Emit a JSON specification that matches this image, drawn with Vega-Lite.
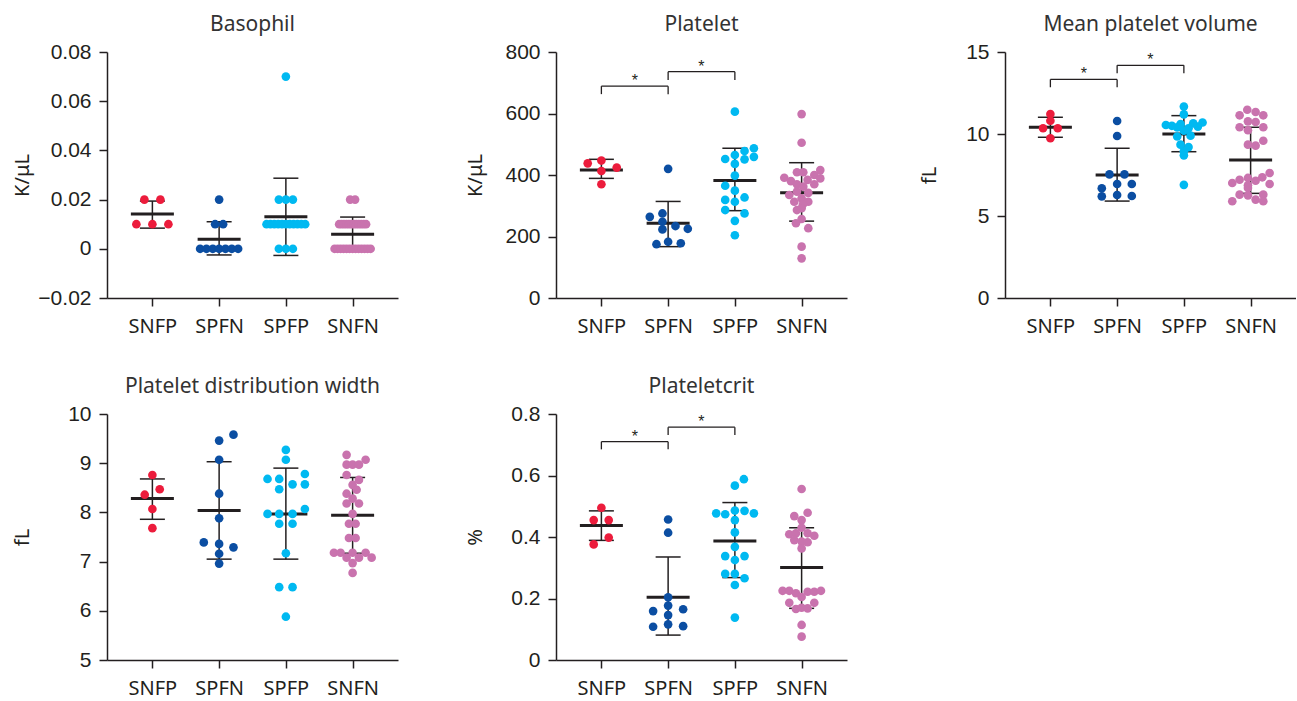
{
"$schema": "https://vega.github.io/schema/vega-lite/v6.json",
"padding": {"left": 12, "top": 14, "right": 0, "bottom": 0},
"background": "white",
"config": {
 "view": {"stroke": null},
 "axis": {"domainColor": "#231f20", "domainWidth": 1.5, "tickColor": "#231f20", "tickWidth": 1.5, "tickSize": 8, "grid": false, "labelColor": "#231f20", "titleColor": "#231f20"},
 "axisX": {"labelFont": "Noto Sans", "labelFontSize": 20, "labelAngle": 0, "labelPadding": 10},
 "axisY": {"labelFont": "Liberation Sans", "labelFontSize": 21, "labelPadding": 8, "titleFont": "Noto Sans", "titleFontSize": 20, "titleFontWeight": "normal", "titleAngle": 270, "titleBaseline": "alphabetic", "titleY": 123},
 "title": {"font": "Noto Sans", "fontSize": 21, "fontWeight": "normal", "color": "#333333", "anchor": "middle", "frame": "group", "offset": 6},
 "circle": {"size": 75, "opacity": 1},
 "tick": {"color": "#231f20", "opacity": 1},
 "rule": {"color": "#231f20"}
},
"datasets": {
 "baso": [
  {"g":"SNFP","v":0.02,"off":-0.12},{"g":"SNFP","v":0.02,"off":0.12},{"g":"SNFP","v":0.01,"off":-0.24},{"g":"SNFP","v":0.01,"off":0},{"g":"SNFP","v":0.01,"off":0.24},
  {"g":"SPFN","v":0.02,"off":0},{"g":"SPFN","v":0.01,"off":-0.06},{"g":"SPFN","v":0.01,"off":0.06},
  {"g":"SPFN","v":0,"off":-0.285},{"g":"SPFN","v":0,"off":-0.19},{"g":"SPFN","v":0,"off":-0.095},{"g":"SPFN","v":0,"off":0},{"g":"SPFN","v":0,"off":0.095},{"g":"SPFN","v":0,"off":0.19},{"g":"SPFN","v":0,"off":0.285},
  {"g":"SPFP","v":0.07,"off":0},{"g":"SPFP","v":0.02,"off":-0.105},{"g":"SPFP","v":0.02,"off":0},{"g":"SPFP","v":0.02,"off":0.105},
  {"g":"SPFP","v":0.01,"off":-0.29},{"g":"SPFP","v":0.01,"off":-0.232},{"g":"SPFP","v":0.01,"off":-0.174},{"g":"SPFP","v":0.01,"off":-0.116},{"g":"SPFP","v":0.01,"off":-0.058},{"g":"SPFP","v":0.01,"off":0},{"g":"SPFP","v":0.01,"off":0.058},{"g":"SPFP","v":0.01,"off":0.116},{"g":"SPFP","v":0.01,"off":0.174},{"g":"SPFP","v":0.01,"off":0.232},{"g":"SPFP","v":0.01,"off":0.29},
  {"g":"SPFP","v":0,"off":-0.105},{"g":"SPFP","v":0,"off":0},{"g":"SPFP","v":0,"off":0.105},
  {"g":"SNFN","v":0.02,"off":-0.037},{"g":"SNFN","v":0.02,"off":0.037},
  {"g":"SNFN","v":0.01,"off":-0.202},{"g":"SNFN","v":0.01,"off":-0.166},{"g":"SNFN","v":0.01,"off":-0.129},{"g":"SNFN","v":0.01,"off":-0.092},{"g":"SNFN","v":0.01,"off":-0.055},{"g":"SNFN","v":0.01,"off":-0.019},{"g":"SNFN","v":0.01,"off":0.019},{"g":"SNFN","v":0.01,"off":0.055},{"g":"SNFN","v":0.01,"off":0.092},{"g":"SNFN","v":0.01,"off":0.129},{"g":"SNFN","v":0.01,"off":0.166},{"g":"SNFN","v":0.01,"off":0.202},
  {"g":"SNFN","v":0,"off":-0.27},{"g":"SNFN","v":0,"off":-0.225},{"g":"SNFN","v":0,"off":-0.18},{"g":"SNFN","v":0,"off":-0.135},{"g":"SNFN","v":0,"off":-0.09},{"g":"SNFN","v":0,"off":-0.045},{"g":"SNFN","v":0,"off":0},{"g":"SNFN","v":0,"off":0.045},{"g":"SNFN","v":0,"off":0.09},{"g":"SNFN","v":0,"off":0.135},{"g":"SNFN","v":0,"off":0.18},{"g":"SNFN","v":0,"off":0.225},{"g":"SNFN","v":0,"off":0.27}
 ],
 "baso_s": [
  {"g":"SNFP","mean":0.0141,"lo":0.0084,"hi":0.0194},
  {"g":"SPFN","mean":0.0039,"lo":-0.0025,"hi":0.011},
  {"g":"SPFP","mean":0.013,"lo":-0.0027,"hi":0.0287},
  {"g":"SNFN","mean":0.0059,"lo":-0.001,"hi":0.0129}
 ],
 "plt": [
  {"g":"SNFP","v":438,"off":-0.205},{"g":"SNFP","v":447,"off":0},{"g":"SNFP","v":424,"off":0.23},{"g":"SNFP","v":413,"off":0},{"g":"SNFP","v":370,"off":0},
  {"g":"SPFN","v":420,"off":0},{"g":"SPFN","v":275,"off":-0.085},{"g":"SPFN","v":264,"off":-0.275},{"g":"SPFN","v":248,"off":-0.085},{"g":"SPFN","v":234,"off":0.11},{"g":"SPFN","v":223,"off":-0.085},{"g":"SPFN","v":225,"off":0.295},{"g":"SPFN","v":175,"off":-0.175},{"g":"SPFN","v":183,"off":0},{"g":"SPFN","v":178,"off":0.19},
  {"g":"SPFP","v":606,"off":0},{"g":"SPFP","v":487,"off":0.285},{"g":"SPFP","v":478,"off":0.145},{"g":"SPFP","v":465,"off":0},{"g":"SPFP","v":452,"off":-0.145},{"g":"SPFP","v":451,"off":0.145},{"g":"SPFP","v":459,"off":0.285},{"g":"SPFP","v":436,"off":0},{"g":"SPFP","v":398,"off":0},{"g":"SPFP","v":365,"off":-0.145},{"g":"SPFP","v":349,"off":0},{"g":"SPFP","v":327,"off":0.145},{"g":"SPFP","v":319,"off":-0.145},{"g":"SPFP","v":313,"off":0},{"g":"SPFP","v":286,"off":-0.145},{"g":"SPFP","v":275,"off":0.145},{"g":"SPFP","v":251,"off":0},{"g":"SPFP","v":204,"off":0},
  {"g":"SNFN","v":598,"off":0},{"g":"SNFN","v":505,"off":0},{"g":"SNFN","v":416,"off":0.28},{"g":"SNFN","v":409,"off":-0.07},{"g":"SNFN","v":409,"off":0.025},{"g":"SNFN","v":400,"off":0.19},{"g":"SNFN","v":391,"off":-0.26},{"g":"SNFN","v":389,"off":0.28},{"g":"SNFN","v":384,"off":0.09},{"g":"SNFN","v":380,"off":-0.16},{"g":"SNFN","v":370,"off":0.19},{"g":"SNFN","v":370,"off":-0.07},{"g":"SNFN","v":362,"off":0.025},{"g":"SNFN","v":346,"off":-0.07},{"g":"SNFN","v":342,"off":0.1},{"g":"SNFN","v":335,"off":-0.185},{"g":"SNFN","v":324,"off":0},{"g":"SNFN","v":313,"off":-0.11},{"g":"SNFN","v":313,"off":0.1},{"g":"SNFN","v":305,"off":0.02},{"g":"SNFN","v":292,"off":0},{"g":"SNFN","v":286,"off":-0.07},{"g":"SNFN","v":257,"off":0},{"g":"SNFN","v":243,"off":-0.085},{"g":"SNFN","v":227,"off":0.1},{"g":"SNFN","v":167,"off":0},{"g":"SNFN","v":129,"off":0}
 ],
 "plt_s": [
  {"g":"SNFP","mean":416,"lo":389,"hi":451},
  {"g":"SPFN","mean":243,"lo":167,"hi":314},
  {"g":"SPFP","mean":382,"lo":284,"hi":487},
  {"g":"SNFN","mean":342,"lo":250,"hi":440}
 ],
 "plt_b": [
  {"a":"SNFP","b":"SPFN","top":689,"arm":663},
  {"a":"SPFN","b":"SPFP","top":736,"arm":709}
 ],
 "mpv": [
  {"g":"SNFP","v":11.22,"off":0},{"g":"SNFP","v":10.81,"off":0},{"g":"SNFP","v":10.35,"off":-0.11},{"g":"SNFP","v":10.35,"off":0.11},{"g":"SNFP","v":9.74,"off":0},
  {"g":"SPFN","v":10.79,"off":0},{"g":"SPFN","v":9.88,"off":0},{"g":"SPFN","v":7.54,"off":-0.115},{"g":"SPFN","v":7.54,"off":0.11},{"g":"SPFN","v":6.95,"off":0},{"g":"SPFN","v":6.95,"off":0.22},{"g":"SPFN","v":6.69,"off":-0.23},{"g":"SPFN","v":6.28,"off":0},{"g":"SPFN","v":6.2,"off":-0.23},{"g":"SPFN","v":6.22,"off":0.22},
  {"g":"SPFP","v":11.67,"off":0},{"g":"SPFP","v":11.2,"off":0},{"g":"SPFP","v":10.7,"off":0.28},{"g":"SPFP","v":10.65,"off":0.14},{"g":"SPFP","v":10.6,"off":-0.05},{"g":"SPFP","v":10.55,"off":-0.27},{"g":"SPFP","v":10.5,"off":-0.18},{"g":"SPFP","v":10.45,"off":0.21},{"g":"SPFP","v":10.4,"off":-0.1},{"g":"SPFP","v":10.35,"off":0.07},{"g":"SPFP","v":10.2,"off":0},{"g":"SPFP","v":9.9,"off":0.1},{"g":"SPFP","v":9.85,"off":-0.1},{"g":"SPFP","v":9.35,"off":-0.05},{"g":"SPFP","v":9.2,"off":0.07},{"g":"SPFP","v":8.95,"off":0},{"g":"SPFP","v":8.7,"off":0},{"g":"SPFP","v":6.9,"off":0},
  {"g":"SNFN","v":11.48,"off":-0.05},{"g":"SNFN","v":11.34,"off":0.075},{"g":"SNFN","v":11.14,"off":-0.165},{"g":"SNFN","v":11.14,"off":0.19},{"g":"SNFN","v":10.77,"off":-0.04},{"g":"SNFN","v":10.73,"off":0.075},{"g":"SNFN","v":10.41,"off":-0.165},{"g":"SNFN","v":10.41,"off":0.19},{"g":"SNFN","v":10.23,"off":-0.04},
  {"g":"SNFN","v":9.35,"off":-0.04},{"g":"SNFN","v":9.29,"off":0.075},{"g":"SNFN","v":9.59,"off":0.19},
  {"g":"SNFN","v":7.62,"off":0.285},{"g":"SNFN","v":7.36,"off":0.175},{"g":"SNFN","v":7.32,"off":-0.04},{"g":"SNFN","v":7.15,"off":0.075},{"g":"SNFN","v":7.21,"off":-0.165},{"g":"SNFN","v":7.01,"off":-0.275},{"g":"SNFN","v":6.95,"off":0.285},{"g":"SNFN","v":6.87,"off":-0.04},{"g":"SNFN","v":6.71,"off":-0.04},{"g":"SNFN","v":6.3,"off":-0.165},{"g":"SNFN","v":6.26,"off":-0.04},{"g":"SNFN","v":6.3,"off":0.19},{"g":"SNFN","v":5.9,"off":-0.275},{"g":"SNFN","v":6.0,"off":0.075},{"g":"SNFN","v":5.9,"off":0.19}
 ],
 "mpv_s": [
  {"g":"SNFP","mean":10.41,"lo":9.8,"hi":11.02},
  {"g":"SPFN","mean":7.5,"lo":5.91,"hi":9.13},
  {"g":"SPFP","mean":10.0,"lo":8.92,"hi":11.12},
  {"g":"SNFN","mean":8.41,"lo":6.38,"hi":10.41}
 ],
 "mpv_b": [
  {"a":"SNFP","b":"SPFN","top":13.33,"arm":12.85},
  {"a":"SPFN","b":"SPFP","top":14.19,"arm":13.7}
 ],
 "pdw": [
  {"g":"SNFP","v":8.76,"off":0},{"g":"SNFP","v":8.47,"off":0.11},{"g":"SNFP","v":8.36,"off":-0.115},{"g":"SNFP","v":8.07,"off":0},{"g":"SNFP","v":7.68,"off":0},
  {"g":"SPFN","v":9.46,"off":0},{"g":"SPFN","v":9.58,"off":0.215},{"g":"SPFN","v":9.07,"off":0},{"g":"SPFN","v":8.38,"off":0},{"g":"SPFN","v":7.88,"off":0},{"g":"SPFN","v":7.39,"off":-0.23},{"g":"SPFN","v":7.36,"off":0},{"g":"SPFN","v":7.29,"off":0.215},{"g":"SPFN","v":7.16,"off":0},{"g":"SPFN","v":6.96,"off":0},
  {"g":"SPFP","v":9.27,"off":0},{"g":"SPFP","v":9.07,"off":0},{"g":"SPFP","v":8.68,"off":-0.275},{"g":"SPFP","v":8.68,"off":-0.1},{"g":"SPFP","v":8.78,"off":0.285},{"g":"SPFP","v":8.47,"off":-0.1},{"g":"SPFP","v":8.57,"off":0.1},{"g":"SPFP","v":8.57,"off":0.285},{"g":"SPFP","v":7.97,"off":-0.275},{"g":"SPFP","v":7.97,"off":-0.1},{"g":"SPFP","v":7.97,"off":0.1},{"g":"SPFP","v":8.07,"off":0.285},{"g":"SPFP","v":7.77,"off":-0.1},{"g":"SPFP","v":7.77,"off":0.1},{"g":"SPFP","v":7.17,"off":0},{"g":"SPFP","v":6.48,"off":-0.1},{"g":"SPFP","v":6.48,"off":0.1},{"g":"SPFP","v":5.88,"off":0},
  {"g":"SNFN","v":9.17,"off":-0.09},{"g":"SNFN","v":9.07,"off":0.195},{"g":"SNFN","v":8.97,"off":-0.09},{"g":"SNFN","v":8.97,"off":0},{"g":"SNFN","v":8.97,"off":0.095},{"g":"SNFN","v":8.76,"off":-0.09},{"g":"SNFN","v":8.66,"off":0.095},{"g":"SNFN","v":8.56,"off":0},{"g":"SNFN","v":8.38,"off":-0.09},{"g":"SNFN","v":8.28,"off":0},{"g":"SNFN","v":8.18,"off":-0.09},{"g":"SNFN","v":8.18,"off":0.095},{"g":"SNFN","v":7.97,"off":0},{"g":"SNFN","v":7.77,"off":-0.055},{"g":"SNFN","v":7.77,"off":0.045},{"g":"SNFN","v":7.48,"off":-0.055},{"g":"SNFN","v":7.48,"off":0.045},{"g":"SNFN","v":7.18,"off":-0.28},{"g":"SNFN","v":7.18,"off":-0.18},{"g":"SNFN","v":7.18,"off":0},{"g":"SNFN","v":7.18,"off":0.195},{"g":"SNFN","v":7.08,"off":-0.09},{"g":"SNFN","v":7.08,"off":0.095},{"g":"SNFN","v":7.08,"off":0.285},{"g":"SNFN","v":6.97,"off":0},{"g":"SNFN","v":6.77,"off":0},{"g":"SNFN","v":8.46,"off":0.06}
 ],
 "pdw_s": [
  {"g":"SNFP","mean":8.28,"lo":7.86,"hi":8.68},
  {"g":"SPFN","mean":8.04,"lo":7.05,"hi":9.03},
  {"g":"SPFP","mean":7.97,"lo":7.05,"hi":8.9},
  {"g":"SNFN","mean":7.94,"lo":7.17,"hi":8.71}
 ],
 "pct": [
  {"g":"SNFP","v":0.495,"off":0},{"g":"SNFP","v":0.455,"off":-0.115},{"g":"SNFP","v":0.455,"off":0.11},{"g":"SNFP","v":0.398,"off":0.11},{"g":"SNFP","v":0.376,"off":-0.115},
  {"g":"SPFN","v":0.457,"off":0},{"g":"SPFN","v":0.414,"off":0},{"g":"SPFN","v":0.204,"off":0},{"g":"SPFN","v":0.177,"off":0},{"g":"SPFN","v":0.159,"off":-0.225},{"g":"SPFN","v":0.165,"off":0.225},{"g":"SPFN","v":0.146,"off":0},{"g":"SPFN","v":0.108,"off":-0.225},{"g":"SPFN","v":0.116,"off":0},{"g":"SPFN","v":0.11,"off":0.225},
  {"g":"SPFP","v":0.588,"off":0.135},{"g":"SPFP","v":0.567,"off":0},{"g":"SPFP","v":0.477,"off":-0.28},{"g":"SPFP","v":0.474,"off":-0.145},{"g":"SPFP","v":0.486,"off":0},{"g":"SPFP","v":0.485,"off":0.145},{"g":"SPFP","v":0.477,"off":0.285},{"g":"SPFP","v":0.455,"off":0},{"g":"SPFP","v":0.415,"off":0},{"g":"SPFP","v":0.368,"off":0},{"g":"SPFP","v":0.338,"off":-0.145},{"g":"SPFP","v":0.338,"off":0.145},{"g":"SPFP","v":0.325,"off":0},{"g":"SPFP","v":0.28,"off":-0.145},{"g":"SPFP","v":0.28,"off":0},{"g":"SPFP","v":0.266,"off":0.145},{"g":"SPFP","v":0.244,"off":0},{"g":"SPFP","v":0.138,"off":0},
  {"g":"SNFN","v":0.556,"off":0},{"g":"SNFN","v":0.468,"off":-0.11},{"g":"SNFN","v":0.479,"off":0.09},{"g":"SNFN","v":0.455,"off":0},{"g":"SNFN","v":0.43,"off":0},{"g":"SNFN","v":0.409,"off":-0.185},{"g":"SNFN","v":0.412,"off":-0.085},{"g":"SNFN","v":0.412,"off":0.09},{"g":"SNFN","v":0.404,"off":0.19},{"g":"SNFN","v":0.39,"off":-0.11},{"g":"SNFN","v":0.385,"off":0},{"g":"SNFN","v":0.383,"off":0.09},{"g":"SNFN","v":0.363,"off":0},
  {"g":"SNFN","v":0.225,"off":-0.285},{"g":"SNFN","v":0.225,"off":-0.185},{"g":"SNFN","v":0.217,"off":-0.085},{"g":"SNFN","v":0.222,"off":0.09},{"g":"SNFN","v":0.222,"off":0.19},{"g":"SNFN","v":0.225,"off":0.29},{"g":"SNFN","v":0.205,"off":0},{"g":"SNFN","v":0.186,"off":-0.185},{"g":"SNFN","v":0.166,"off":-0.085},{"g":"SNFN","v":0.17,"off":0},{"g":"SNFN","v":0.168,"off":0.09},{"g":"SNFN","v":0.186,"off":0.19},{"g":"SNFN","v":0.114,"off":0},{"g":"SNFN","v":0.076,"off":0}
 ],
 "pct_s": [
  {"g":"SNFP","mean":0.437,"lo":0.389,"hi":0.485},
  {"g":"SPFN","mean":0.204,"lo":0.081,"hi":0.335},
  {"g":"SPFP","mean":0.387,"lo":0.268,"hi":0.512},
  {"g":"SNFN","mean":0.301,"lo":0.168,"hi":0.43}
 ],
 "pct_b": [
  {"a":"SNFP","b":"SPFN","top":0.71,"arm":0.685},
  {"a":"SPFN","b":"SPFP","top":0.757,"arm":0.732}
 ]
},
"columns": 3,
"spacing": {"row": 116, "column": 158},
"bounds": "flush",
"concat": [
   {"width": 291, "height": 246, "title": "Basophil",
    "encoding": {"x": {"field": "g", "type": "nominal", "title": null, "scale": {"type": "point", "domain": ["SNFP","SPFN","SPFP","SNFN"], "padding": 0.68}}},
    "layer": [
     {"data": {"name": "baso_s"}, "mark": {"type": "rule", "strokeWidth": 1.5}, "encoding": {"y": {"field": "lo", "type": "quantitative", "title": "K/μL", "scale": {"domain": [-0.02, 0.08], "nice": false, "zero": false}, "axis": {"values": [-0.02, 0, 0.02, 0.04, 0.06, 0.08], "format": "~f", "titleX": -79}}, "y2": {"field": "hi"}}},
     {"data": {"name": "baso_s"}, "mark": {"type": "tick", "size": 25, "thickness": 1.5}, "encoding": {"y": {"field": "hi", "type": "quantitative", "title": "K/μL"}}},
     {"data": {"name": "baso_s"}, "mark": {"type": "tick", "size": 25, "thickness": 1.5}, "encoding": {"y": {"field": "lo", "type": "quantitative", "title": "K/μL"}}},
     {"data": {"name": "baso_s"}, "mark": {"type": "tick", "size": 43, "thickness": 3}, "encoding": {"y": {"field": "mean", "type": "quantitative", "title": "K/μL"}}},
     {"data": {"name": "baso"}, "mark": {"type": "circle"}, "encoding": {"y": {"field": "v", "type": "quantitative", "title": "K/μL"}, "xOffset": {"field": "off", "type": "quantitative", "scale": {"domain": [-1, 1], "range": [-66.7, 66.7]}}, "color": {"field": "g", "type": "nominal", "legend": null, "scale": {"domain": ["SNFP","SPFN","SPFP","SNFN"], "range": ["#ec1c3c","#0b4ea2","#00b9f1","#c973ae"]}}}}
    ]},
   {"width": 291, "height": 246, "title": "Platelet",
    "encoding": {"x": {"field": "g", "type": "nominal", "title": null, "scale": {"type": "point", "domain": ["SNFP","SPFN","SPFP","SNFN"], "padding": 0.68}}},
    "layer": [
     {"data": {"name": "plt_s"}, "mark": {"type": "rule", "strokeWidth": 1.5}, "encoding": {"y": {"field": "lo", "type": "quantitative", "title": "K/μL", "scale": {"domain": [0, 800], "nice": false, "zero": false}, "axis": {"values": [0, 200, 400, 600, 800], "format": "~f", "titleX": -75}}, "y2": {"field": "hi"}}},
     {"data": {"name": "plt_s"}, "mark": {"type": "tick", "size": 25, "thickness": 1.5}, "encoding": {"y": {"field": "hi", "type": "quantitative", "title": "K/μL"}}},
     {"data": {"name": "plt_s"}, "mark": {"type": "tick", "size": 25, "thickness": 1.5}, "encoding": {"y": {"field": "lo", "type": "quantitative", "title": "K/μL"}}},
     {"data": {"name": "plt_s"}, "mark": {"type": "tick", "size": 43, "thickness": 3}, "encoding": {"y": {"field": "mean", "type": "quantitative", "title": "K/μL"}}},
     {"data": {"name": "plt"}, "mark": {"type": "circle"}, "encoding": {"y": {"field": "v", "type": "quantitative", "title": "K/μL"}, "xOffset": {"field": "off", "type": "quantitative", "scale": {"domain": [-1, 1], "range": [-66.7, 66.7]}}, "color": {"field": "g", "type": "nominal", "legend": null, "scale": {"domain": ["SNFP","SPFN","SPFP","SNFN"], "range": ["#ec1c3c","#0b4ea2","#00b9f1","#c973ae"]}}}},
     {"data": {"name": "plt_b"}, "mark": {"type": "rule", "strokeWidth": 1.3}, "encoding": {"x": {"field": "a", "type": "nominal", "title": null}, "x2": {"field": "b"}, "y": {"field": "top", "type": "quantitative", "title": "K/μL"}}},
     {"data": {"name": "plt_b"}, "mark": {"type": "rule", "strokeWidth": 1.3}, "encoding": {"x": {"field": "a", "type": "nominal", "title": null}, "y": {"field": "arm", "type": "quantitative", "title": "K/μL"}, "y2": {"field": "top"}}},
     {"data": {"name": "plt_b"}, "mark": {"type": "rule", "strokeWidth": 1.3}, "encoding": {"x": {"field": "b", "type": "nominal", "title": null}, "y": {"field": "arm", "type": "quantitative", "title": "K/μL"}, "y2": {"field": "top"}}},
     {"data": {"name": "plt_b"}, "mark": {"type": "text", "text": "*", "font": "Liberation Sans", "fontSize": 16, "baseline": "alphabetic", "color": "#231f20"}, "encoding": {"x": {"field": "a", "type": "nominal", "title": null}, "xOffset": {"datum": 0.5, "type": "quantitative", "scale": {"domain": [-1, 1], "range": [-66.7, 66.7]}}, "y": {"field": "top", "type": "quantitative", "title": "K/μL"}}}
    ]},
  {"width": 291, "height": 246, "title": "Mean platelet volume",
   "encoding": {"x": {"field": "g", "type": "nominal", "title": null, "scale": {"type": "point", "domain": ["SNFP","SPFN","SPFP","SNFN"], "padding": 0.68}}},
   "layer": [
    {"data": {"name": "mpv_s"}, "mark": {"type": "rule", "strokeWidth": 1.5}, "encoding": {"y": {"field": "lo", "type": "quantitative", "title": "fL", "scale": {"domain": [0, 15], "nice": false, "zero": false}, "axis": {"values": [0, 5, 10, 15], "format": "~f", "titleX": -70}}, "y2": {"field": "hi"}}},
    {"data": {"name": "mpv_s"}, "mark": {"type": "tick", "size": 25, "thickness": 1.5}, "encoding": {"y": {"field": "hi", "type": "quantitative", "title": "fL"}}},
    {"data": {"name": "mpv_s"}, "mark": {"type": "tick", "size": 25, "thickness": 1.5}, "encoding": {"y": {"field": "lo", "type": "quantitative", "title": "fL"}}},
    {"data": {"name": "mpv_s"}, "mark": {"type": "tick", "size": 43, "thickness": 3}, "encoding": {"y": {"field": "mean", "type": "quantitative", "title": "fL"}}},
    {"data": {"name": "mpv"}, "mark": {"type": "circle"}, "encoding": {"y": {"field": "v", "type": "quantitative", "title": "fL"}, "xOffset": {"field": "off", "type": "quantitative", "scale": {"domain": [-1, 1], "range": [-66.7, 66.7]}}, "color": {"field": "g", "type": "nominal", "legend": null, "scale": {"domain": ["SNFP","SPFN","SPFP","SNFN"], "range": ["#ec1c3c","#0b4ea2","#00b9f1","#c973ae"]}}}},
    {"data": {"name": "mpv_b"}, "mark": {"type": "rule", "strokeWidth": 1.3}, "encoding": {"x": {"field": "a", "type": "nominal", "title": null}, "x2": {"field": "b"}, "y": {"field": "top", "type": "quantitative", "title": "fL"}}},
    {"data": {"name": "mpv_b"}, "mark": {"type": "rule", "strokeWidth": 1.3}, "encoding": {"x": {"field": "a", "type": "nominal", "title": null}, "y": {"field": "arm", "type": "quantitative", "title": "fL"}, "y2": {"field": "top"}}},
    {"data": {"name": "mpv_b"}, "mark": {"type": "rule", "strokeWidth": 1.3}, "encoding": {"x": {"field": "b", "type": "nominal", "title": null}, "y": {"field": "arm", "type": "quantitative", "title": "fL"}, "y2": {"field": "top"}}},
    {"data": {"name": "mpv_b"}, "mark": {"type": "text", "text": "*", "font": "Liberation Sans", "fontSize": 16, "baseline": "alphabetic", "color": "#231f20"}, "encoding": {"x": {"field": "a", "type": "nominal", "title": null}, "xOffset": {"datum": 0.5, "type": "quantitative", "scale": {"domain": [-1, 1], "range": [-66.7, 66.7]}}, "y": {"field": "top", "type": "quantitative", "title": "fL"}}}
   ]},
  {"width": 291, "height": 246, "title": "Platelet distribution width",
   "encoding": {"x": {"field": "g", "type": "nominal", "title": null, "scale": {"type": "point", "domain": ["SNFP","SPFN","SPFP","SNFN"], "padding": 0.68}}},
   "layer": [
    {"data": {"name": "pdw_s"}, "mark": {"type": "rule", "strokeWidth": 1.5}, "encoding": {"y": {"field": "lo", "type": "quantitative", "title": "fL", "scale": {"domain": [5, 10], "nice": false, "zero": false}, "axis": {"values": [5, 6, 7, 8, 9, 10], "format": "~f", "titleX": -79}}, "y2": {"field": "hi"}}},
    {"data": {"name": "pdw_s"}, "mark": {"type": "tick", "size": 25, "thickness": 1.5}, "encoding": {"y": {"field": "hi", "type": "quantitative", "title": "fL"}}},
    {"data": {"name": "pdw_s"}, "mark": {"type": "tick", "size": 25, "thickness": 1.5}, "encoding": {"y": {"field": "lo", "type": "quantitative", "title": "fL"}}},
    {"data": {"name": "pdw_s"}, "mark": {"type": "tick", "size": 43, "thickness": 3}, "encoding": {"y": {"field": "mean", "type": "quantitative", "title": "fL"}}},
    {"data": {"name": "pdw"}, "mark": {"type": "circle"}, "encoding": {"y": {"field": "v", "type": "quantitative", "title": "fL"}, "xOffset": {"field": "off", "type": "quantitative", "scale": {"domain": [-1, 1], "range": [-66.7, 66.7]}}, "color": {"field": "g", "type": "nominal", "legend": null, "scale": {"domain": ["SNFP","SPFN","SPFP","SNFN"], "range": ["#ec1c3c","#0b4ea2","#00b9f1","#c973ae"]}}}}
   ]},
  {"width": 291, "height": 246, "title": "Plateletcrit",
   "encoding": {"x": {"field": "g", "type": "nominal", "title": null, "scale": {"type": "point", "domain": ["SNFP","SPFN","SPFP","SNFN"], "padding": 0.68}}},
   "layer": [
    {"data": {"name": "pct_s"}, "mark": {"type": "rule", "strokeWidth": 1.5}, "encoding": {"y": {"field": "lo", "type": "quantitative", "title": "%", "scale": {"domain": [0, 0.8], "nice": false, "zero": false}, "axis": {"values": [0, 0.2, 0.4, 0.6, 0.8], "format": "~f", "titleX": -75}}, "y2": {"field": "hi"}}},
    {"data": {"name": "pct_s"}, "mark": {"type": "tick", "size": 25, "thickness": 1.5}, "encoding": {"y": {"field": "hi", "type": "quantitative", "title": "%"}}},
    {"data": {"name": "pct_s"}, "mark": {"type": "tick", "size": 25, "thickness": 1.5}, "encoding": {"y": {"field": "lo", "type": "quantitative", "title": "%"}}},
    {"data": {"name": "pct_s"}, "mark": {"type": "tick", "size": 43, "thickness": 3}, "encoding": {"y": {"field": "mean", "type": "quantitative", "title": "%"}}},
    {"data": {"name": "pct"}, "mark": {"type": "circle"}, "encoding": {"y": {"field": "v", "type": "quantitative", "title": "%"}, "xOffset": {"field": "off", "type": "quantitative", "scale": {"domain": [-1, 1], "range": [-66.7, 66.7]}}, "color": {"field": "g", "type": "nominal", "legend": null, "scale": {"domain": ["SNFP","SPFN","SPFP","SNFN"], "range": ["#ec1c3c","#0b4ea2","#00b9f1","#c973ae"]}}}},
    {"data": {"name": "pct_b"}, "mark": {"type": "rule", "strokeWidth": 1.3}, "encoding": {"x": {"field": "a", "type": "nominal", "title": null}, "x2": {"field": "b"}, "y": {"field": "top", "type": "quantitative", "title": "%"}}},
    {"data": {"name": "pct_b"}, "mark": {"type": "rule", "strokeWidth": 1.3}, "encoding": {"x": {"field": "a", "type": "nominal", "title": null}, "y": {"field": "arm", "type": "quantitative", "title": "%"}, "y2": {"field": "top"}}},
    {"data": {"name": "pct_b"}, "mark": {"type": "rule", "strokeWidth": 1.3}, "encoding": {"x": {"field": "b", "type": "nominal", "title": null}, "y": {"field": "arm", "type": "quantitative", "title": "%"}, "y2": {"field": "top"}}},
    {"data": {"name": "pct_b"}, "mark": {"type": "text", "text": "*", "font": "Liberation Sans", "fontSize": 16, "baseline": "alphabetic", "color": "#231f20"}, "encoding": {"x": {"field": "a", "type": "nominal", "title": null}, "xOffset": {"datum": 0.5, "type": "quantitative", "scale": {"domain": [-1, 1], "range": [-66.7, 66.7]}}, "y": {"field": "top", "type": "quantitative", "title": "%"}}}
   ]}
]
}
